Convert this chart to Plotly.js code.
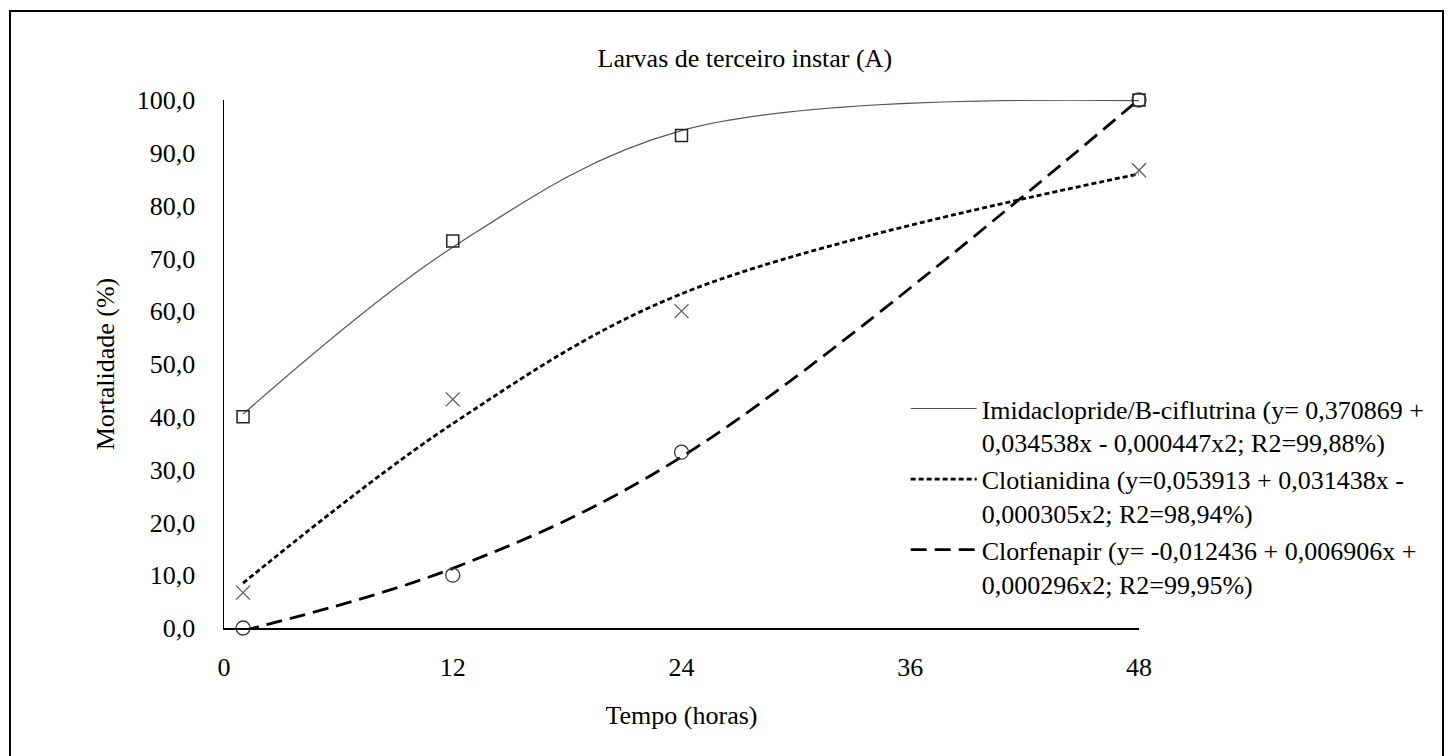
<!DOCTYPE html>
<html>
<head>
<meta charset="utf-8">
<script src="https://cdn.plot.ly/plotly-3.0.1.min.js"></script>
<style>
html,body{margin:0;padding:0;background:#fff;}
#chart{width:1449px;height:756px;}
</style>
</head>
<body>
<div id="chart"></div>
<script>
// Observed points
const hours = [1, 12, 24, 48];
const imidaObs = [40.0, 73.3, 93.3, 100.0];
const clotiObs = [6.7, 43.3, 60.0, 86.7];
const clorfObs = [0.0, 10.0, 33.3, 100.0];
// Fitted curve values
const imidaFit = [40.5, 72.1, 94.2, 99.9];
const clotiFit = [8.5, 38.7, 63.3, 86.0];
const clorfFit = [-0.5, 11.3, 32.4, 100.1];

const seriesNames = [
  'Imidaclopride/B-ciflutrina (y= 0,370869 +<br>0,034538x - 0,000447x2; R2=99,88%)',
  'Clotianidina (y=0,053913 + 0,031438x -<br>0,000305x2; R2=98,94%)',
  'Clorfenapir (y= -0,012436 + 0,006906x +<br>0,000296x2; R2=99,95%)'
];
const xTicks = [0, 12, 24, 36, 48];
const yTicks = [0, 10, 20, 30, 40, 50, 60, 70, 80, 90, 100];

const FONT = 'Liberation Serif';
const FS = 26;

const traces = [
  {x: hours, y: imidaFit, mode: 'lines', name: seriesNames[0], legendgroup: 'a',
   line: {shape: 'spline', smoothing: 1, color: '#555555', width: 1.2}},
  {x: hours, y: clotiFit, mode: 'lines', name: seriesNames[1], legendgroup: 'b',
   line: {shape: 'spline', smoothing: 1, color: '#000000', width: 2.8, dash: '5px,3px'}},
  {x: hours, y: clorfFit, mode: 'lines', name: seriesNames[2], legendgroup: 'c',
   line: {shape: 'spline', smoothing: 1, color: '#000000', width: 2.8, dash: '16px,8px'}},
  {x: hours, y: imidaObs, mode: 'markers', showlegend: false, cliponaxis: false,
   marker: {symbol: 'square-open', size: 12, color: '#222222', line: {width: 1.5}}},
  {x: hours, y: clotiObs, mode: 'markers', showlegend: false, cliponaxis: false,
   marker: {symbol: 'x-thin-open', size: 14, color: '#555555', line: {width: 1.2, color: '#555555'}}},
  {x: hours, y: clorfObs, mode: 'markers', showlegend: false, cliponaxis: false,
   marker: {symbol: 'circle-open', size: 14, color: '#333333', line: {width: 1.3}}}
];

const layout = {
  width: 1449, height: 756,
  margin: {l: 224, r: 310, t: 100, b: 128, autoexpand: false},
  paper_bgcolor: '#ffffff', plot_bgcolor: '#ffffff',
  separators: ',.',
  font: {family: FONT, size: FS, color: '#000000'},
  title: {text: 'Larvas de terceiro instar (A)', font: {family: FONT, size: FS, color: '#000'},
          xref: 'container', x: 0.514, xanchor: 'center', yref: 'container', y: 0.923, yanchor: 'middle'},
  xaxis: {
    range: [0, 48], tickvals: xTicks, ticktext: xTicks.map(String),
    showgrid: false, zeroline: false, showline: true, linecolor: '#000', linewidth: 1.5,
    ticks: '', ticklabelstandoff: 15, tickfont: {family: FONT, size: FS},
    title: {text: 'Tempo (horas)', font: {family: FONT, size: FS}, standoff: 25}
  },
  yaxis: {
    range: [0, 100], tickvals: yTicks, tickformat: '.1f',
    showgrid: false, zeroline: false, showline: true, linecolor: '#000', linewidth: 1.5,
    ticks: '', ticklabelstandoff: 22, tickfont: {family: FONT, size: FS},
    title: {text: 'Mortalidade (%)', font: {family: FONT, size: FS}, standoff: 14}
  },
  legend: {
    x: 0.745, xanchor: 'left', y: 0.46, yanchor: 'top',
    bgcolor: 'rgba(0,0,0,0)', borderwidth: 0,
    font: {family: FONT, size: FS, color: '#000'},
    valign: 'top', itemwidth: 66, tracegroupgap: 4,
    traceorder: 'normal'
  },
  shapes: [
    {type: 'rect', xref: 'paper', yref: 'paper',
     x0: (10 - 224) / 915, x1: (1443 - 224) / 915,
     y0: (628 - 770) / 528, y1: (628 - 11) / 528,
     line: {color: '#000', width: 2}, fillcolor: 'rgba(0,0,0,0)', layer: 'below'}
  ],
  showlegend: true
};

Plotly.newPlot('chart', traces, layout, {displayModeBar: false, staticPlot: true});
</script>
</body>
</html>
